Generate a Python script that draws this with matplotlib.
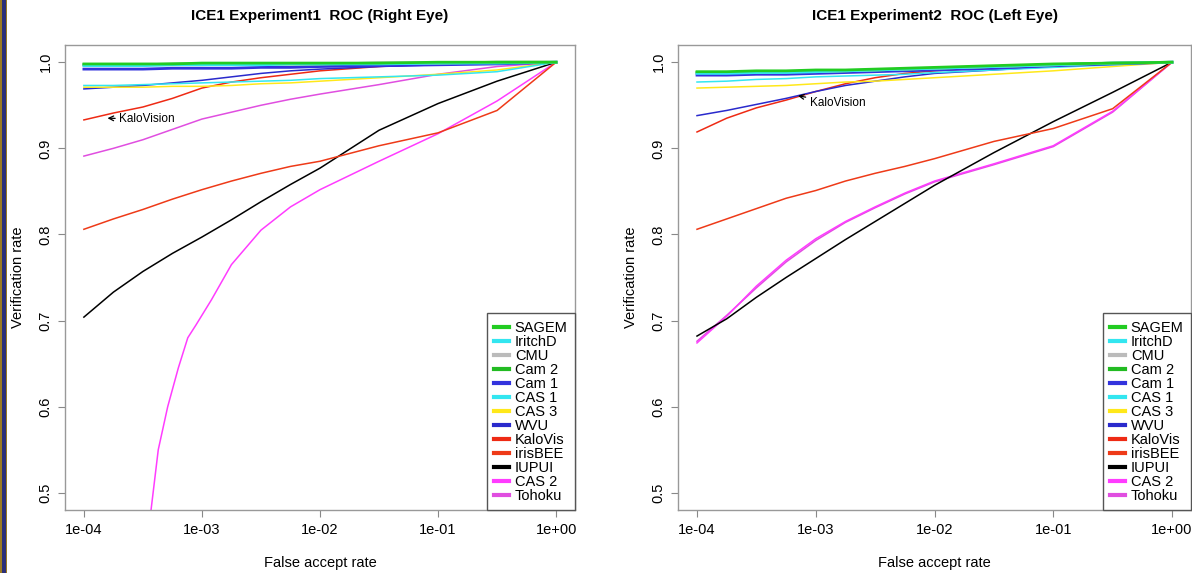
import numpy as np
import matplotlib

matplotlib.use("Agg")
import matplotlib.pyplot as plt  # noqa: E402
from matplotlib.patches import Rectangle  # noqa: E402

plt.rcParams["font.family"] = ["Liberation Sans", "DejaVu Sans"]

# log10 of false accept rate, shared grid
far_log = [-4, -3.75, -3.5, -3.25, -3, -2.75, -2.5, -2.25, -2, -1.5, -1, -0.5, 0]

labels = ["SAGEM", "IritchD", "CMU", "Cam 2", "Cam 1", "CAS 1", "CAS 3",
          "WVU", "KaloVis", "irisBEE", "IUPUI", "CAS 2", "Tohoku"]
colors = ["#22cc22", "#33e6f0", "#bbbbbb", "#22bb22", "#3333dd", "#33e6f0", "#ffe81a",
          "#2a2acc", "#ee2a14", "#ee3a18", "#000000", "#ff3cff", "#e04ee0"]

# Experiment 1 (right eye)
right_sagem = [0.998, 0.998, 0.998, 0.998, 0.999, 0.999, 0.999, 0.999, 0.999, 0.999, 1.0, 1.0, 1.0]
right_iritchd = [0.996, 0.996, 0.996, 0.997, 0.997, 0.997, 0.997, 0.998, 0.998, 0.998, 0.999, 0.999, 1.0]
right_cmu = [0.997, 0.997, 0.997, 0.997, 0.997, 0.998, 0.998, 0.998, 0.998, 0.999, 0.999, 1.0, 1.0]
right_cam2 = [0.997, 0.997, 0.997, 0.998, 0.998, 0.998, 0.998, 0.998, 0.998, 0.999, 0.999, 1.0, 1.0]
right_cam1 = [0.992, 0.992, 0.992, 0.993, 0.993, 0.993, 0.994, 0.994, 0.995, 0.996, 0.997, 0.998, 1.0]
right_cas1 = [0.973, 0.973, 0.974, 0.975, 0.976, 0.977, 0.978, 0.979, 0.981, 0.983, 0.985, 0.989, 1.0]
right_cas3 = [0.971, 0.971, 0.971, 0.972, 0.972, 0.973, 0.975, 0.976, 0.978, 0.982, 0.986, 0.991, 1.0]
right_wvu = [0.969, 0.971, 0.973, 0.976, 0.979, 0.983, 0.987, 0.990, 0.992, 0.995, 0.997, 0.999, 1.0]
right_kalo = [0.933, 0.941, 0.948, 0.958, 0.970, 0.977, 0.982, 0.986, 0.990, 0.995, 0.998, 0.999, 1.0]
right_irisbee = [0.806, 0.818, 0.829, 0.841, 0.852, 0.862, 0.871, 0.879, 0.885, 0.903, 0.918, 0.944, 1.0]
right_iupui = [0.704, 0.733, 0.757, 0.778, 0.797, 0.817, 0.838, 0.858, 0.877, 0.921, 0.952, 0.978, 1.0]
right_tohoku = [0.891, 0.900, 0.910, 0.922, 0.934, 0.942, 0.950, 0.957, 0.963, 0.974, 0.986, 0.995, 1.0]
# CAS 2 drops out of the plot, so it has its own FAR points
right_cas2_far_log = [-3.44, -3.37, -3.29, -3.2, -3.12, -3.05, -2.92, -2.75, -2.5, -2.25, -2, -1.5, -1, -0.5, 0]
right_cas2 = [0.47, 0.55, 0.60, 0.645, 0.68, 0.695, 0.724, 0.765, 0.805, 0.832, 0.852, 0.885, 0.917, 0.955, 1.0]

# Experiment 2 (left eye)
left_sagem = [0.989, 0.989, 0.990, 0.990, 0.991, 0.991, 0.992, 0.993, 0.994, 0.996, 0.998, 0.999, 1.0]
left_iritchd = [0.987, 0.987, 0.988, 0.988, 0.989, 0.990, 0.991, 0.992, 0.993, 0.995, 0.997, 0.999, 1.0]
left_cmu = [0.988, 0.988, 0.988, 0.989, 0.989, 0.990, 0.991, 0.992, 0.993, 0.995, 0.997, 0.999, 1.0]
left_cam2 = [0.988, 0.988, 0.989, 0.989, 0.990, 0.990, 0.991, 0.992, 0.993, 0.995, 0.997, 0.999, 1.0]
left_cam1 = [0.985, 0.985, 0.986, 0.986, 0.987, 0.988, 0.989, 0.990, 0.991, 0.993, 0.996, 0.998, 1.0]
left_cas1 = [0.977, 0.978, 0.980, 0.981, 0.983, 0.984, 0.985, 0.986, 0.988, 0.991, 0.994, 0.997, 1.0]
left_cas3 = [0.970, 0.971, 0.972, 0.973, 0.975, 0.977, 0.978, 0.980, 0.982, 0.986, 0.990, 0.995, 1.0]
left_wvu = [0.938, 0.944, 0.951, 0.958, 0.966, 0.973, 0.978, 0.983, 0.987, 0.991, 0.995, 0.998, 1.0]
left_kalo = [0.919, 0.935, 0.947, 0.956, 0.966, 0.975, 0.982, 0.987, 0.990, 0.994, 0.997, 0.999, 1.0]
left_irisbee = [0.806, 0.818, 0.830, 0.842, 0.851, 0.862, 0.871, 0.879, 0.888, 0.908, 0.923, 0.946, 1.0]
left_iupui = [0.682, 0.702, 0.727, 0.750, 0.772, 0.794, 0.815, 0.836, 0.857, 0.895, 0.931, 0.965, 1.0]
left_cas2 = [0.674, 0.705, 0.740, 0.770, 0.795, 0.815, 0.832, 0.848, 0.862, 0.882, 0.903, 0.943, 1.0]
left_tohoku = [0.676, 0.706, 0.738, 0.768, 0.793, 0.814, 0.831, 0.847, 0.861, 0.881, 0.902, 0.942, 1.0]

titles = ["ICE1 Experiment1  ROC (Right Eye)", "ICE1 Experiment2  ROC (Left Eye)"]
tick_far = [1e-4, 1e-3, 1e-2, 1e-1, 1e0]
tick_far_labels = ["1e-04", "1e-03", "1e-02", "1e-01", "1e+00"]
tick_rate = [0.5, 0.6, 0.7, 0.8, 0.9, 1.0]


def panel(ax, series, title, note_xy, note_text_xy):
    for i in reversed(range(len(labels))):
        sx, sy = series[i]
        lw = 2.0 if i < 5 else 1.1
        ax.plot(10.0 ** np.array(sx), sy, color=colors[i], lw=lw, label=labels[i])
    ax.set_xscale("log")
    ax.set_xlim(10 ** -4.16, 10 ** 0.16)
    ax.set_ylim(0.48, 1.02)
    ax.set_xticks(tick_far)
    ax.set_xticklabels(tick_far_labels)
    ax.minorticks_off()
    ax.set_yticks(tick_rate)
    ax.set_yticklabels([f"{v:.1f}" for v in tick_rate], rotation=90, va="center")
    ax.tick_params(direction="out", length=5, color="#888888", labelsize=10.5, pad=4)
    for s in ax.spines.values():
        s.set_color("#999999")
        s.set_linewidth(1.0)
    ax.set_title(title, fontsize=11, fontweight="bold", pad=18)
    ax.set_xlabel("False accept rate", fontsize=10.5, labelpad=14)
    ax.set_ylabel("Verification rate", fontsize=10.5, labelpad=10)
    ax.annotate("KaloVision", xy=note_xy, xytext=note_text_xy, fontsize=8.5,
                va="center", ha="left",
                arrowprops=dict(arrowstyle="->", color="black", lw=0.9, shrinkA=1, shrinkB=0))
    handles, lbls = ax.get_legend_handles_labels()
    leg = ax.legend(handles[::-1], lbls[::-1], loc="lower right", fontsize=10.5,
                    frameon=True, fancybox=False, edgecolor="#555555", framealpha=1,
                    handlelength=1.0, handletextpad=0.4, labelspacing=0.0,
                    borderpad=0.5, borderaxespad=0.0)
    leg.get_frame().set_linewidth(1.0)
    for h in leg.get_lines():
        h.set_linewidth(3.0)


fig = plt.figure(figsize=(11.92, 5.73), dpi=100)

right_series = [
    (far_log, right_sagem), (far_log, right_iritchd), (far_log, right_cmu), (far_log, right_cam2),
    (far_log, right_cam1), (far_log, right_cas1), (far_log, right_cas3), (far_log, right_wvu),
    (far_log, right_kalo), (far_log, right_irisbee), (far_log, right_iupui),
    (right_cas2_far_log, right_cas2), (far_log, right_tohoku),
]
left_series = [
    (far_log, left_sagem), (far_log, left_iritchd), (far_log, left_cmu), (far_log, left_cam2),
    (far_log, left_cam1), (far_log, left_cas1), (far_log, left_cas3), (far_log, left_wvu),
    (far_log, left_kalo), (far_log, left_irisbee), (far_log, left_iupui),
    (far_log, left_cas2), (far_log, left_tohoku),
]

ax1 = fig.add_axes([65 / 1192, 1 - 510 / 573, 510 / 1192, 465 / 573])
panel(ax1, right_series, titles[0], (10 ** -3.8, 0.935), (10 ** -3.7, 0.934))
ax2 = fig.add_axes([678 / 1192, 1 - 510 / 573, 513 / 1192, 465 / 573])
panel(ax2, left_series, titles[1], (10 ** -3.15, 0.961), (10 ** -3.05, 0.953))

# slide border strip on the left edge
fig.patches.append(Rectangle((0, 0), 7 / 1192, 1, transform=fig.transFigure,
                             facecolor="#9a7a22", edgecolor="none", zorder=5))
fig.patches.append(Rectangle((2 / 1192, 0), 4 / 1192, 1, transform=fig.transFigure,
                             facecolor="#2b2f78", edgecolor="none", zorder=6))

fig.savefig("out.png", dpi=100)
